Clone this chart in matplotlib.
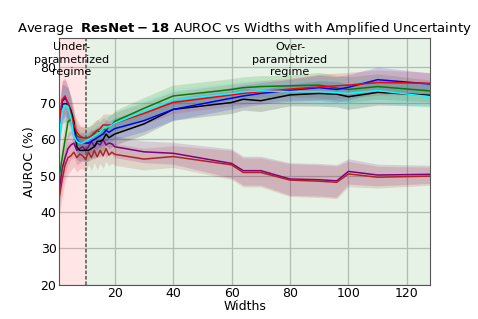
import matplotlib
matplotlib.use("Agg")
import matplotlib.pyplot as plt
import numpy as np

widths = [1, 2, 3, 4, 5, 6, 7, 8, 9, 10, 11, 12, 13, 14, 15, 16, 17, 18, 19, 20,
          30, 40, 60, 64, 70, 80, 90, 96, 100, 110, 128]

red = [65, 71, 72, 70, 67, 64, 62, 61, 60.5, 60.5, 60.5, 61, 62, 62.5, 63, 64, 64, 64, 64, 64.5,
       67.2, 70.2, 72.3, 72.7, 73.2, 73.9, 74.5, 74.8, 75.0, 75.7, 75.5]
blue = [64, 70.5, 71.5, 70, 67, 62, 60, 59, 59, 59, 59, 59.5, 60, 60.5, 61, 61.5, 62.5, 62, 62.5, 63,
        65.2, 68.3, 71.4, 72.0, 72.7, 73.6, 74.3, 73.8, 74.4, 76.5, 75.3]
cyan = [60, 68, 69.5, 69, 66, 61, 59.5, 59, 59, 59.5, 60, 60.5, 61, 61.5, 62, 63, 63.5, 63.5, 64, 64.5,
        67.8, 70.9, 72.7, 73.2, 73.4, 73.2, 73.2, 72.9, 72.7, 73.5, 71.8]
green = [50, 55, 60, 65, 65.5, 63.5, 61, 60.5, 60.5, 60.5, 60.5, 61, 61.5, 62.5, 62, 63, 62.5, 63.5, 64, 65,
         68.6, 72.0, 73.8, 74.3, 74.6, 74.8, 75.0, 74.2, 73.8, 74.6, 73.4]
black = [62, 69.8, 69.8, 69.8, 68, 65, 58, 57, 57, 57, 57, 57.5, 58, 59.5, 59.5, 60, 61.5, 60.5, 61, 61.5,
         64.3, 68.3, 70.2, 71.1, 70.7, 72.3, 72.7, 72.5, 71.8, 73.0, 72.2]
purple = [46, 52, 55, 57.5, 58.5, 59, 57, 57.5, 58, 57, 58, 59.5, 58, 59, 58.5, 60, 58.5, 59, 58.8, 58,
          56.6, 56.2, 53.4, 51.4, 51.4, 49.1, 48.9, 48.6, 51.2, 50.2, 50.4]
brown = [44, 49, 53, 55, 55.5, 56.5, 55, 56, 55.5, 54.5, 56.5, 55, 57, 55.2, 57, 55.5, 57.5, 55.7, 56.5, 55.9,
         54.6, 55.3, 53.0, 50.9, 50.9, 48.8, 48.5, 48.2, 50.5, 49.6, 49.9]

std_upper = [5, 5.5, 5, 4.5, 4, 3.5, 3.5, 3, 3, 3, 3, 3, 3, 3, 3, 3, 3, 3, 3, 3,
             3, 3, 3, 3, 3, 3, 3.5, 3.5, 3.5, 3.5, 3]
std_lower = [5, 5, 4.5, 4.5, 4, 4, 4, 4, 3.5, 3.5, 3.5, 3.5, 3.5, 3.5, 3.5, 3.5, 3.5, 3, 3, 3,
             3, 3, 4, 4, 4, 4.5, 4.5, 4.5, 3.5, 3, 2.5]

series = [(purple, std_lower, "purple"), (brown, std_lower, "firebrick"),
          (green, std_upper, "green"), (black, std_upper, "black"),
          (blue, std_upper, "blue"), (red, std_upper, "red"), (cyan, std_upper, "cyan")]

fig = plt.figure(figsize=(4.78, 3.19), dpi=100)
ax = fig.add_axes([0.124, 0.108, 0.776, 0.773])

x = np.array(widths)
ax.axvspan(1, 10, color="red", alpha=0.1, lw=0)
ax.axvspan(10, 128, color="green", alpha=0.1, lw=0)
ax.axvline(10, color="dimgray", linestyle="--", linewidth=1.3, dashes=(2, 1))

for vals, sd, c in series:
    v = np.array(vals)
    s = np.array(sd)
    ax.fill_between(x, v - s, v + s, color=c, alpha=0.15, lw=0)
    ax.plot(x, v, color=c, linewidth=1.1)

ax.text(5.3, 86.8, "Under-\nparametrized\nregime", ha="center", va="top", fontsize=8, linespacing=1.3)
ax.text(80, 86.8, "Over-\nparametrized\nregime", ha="center", va="top", fontsize=8, linespacing=1.3)

ax.set_xlim(1, 128)
ax.set_ylim(20, 88)
ax.set_xticks([20, 40, 60, 80, 100, 120])
ax.set_yticks([20, 30, 40, 50, 60, 70, 80])
ax.tick_params(labelsize=9, length=0, pad=2)
ax.grid(True, color="#c4c4c4", linewidth=0.9)
ax.set_axisbelow(True)
for sp in ax.spines.values():
    sp.set_color("#555555")
ax.set_xlabel("Widths", fontsize=9, labelpad=0)
ax.set_ylabel("AUROC (%)", fontsize=9, labelpad=3)
ax.set_title(r"Average  $\bf{ResNet-18}$ AUROC vs Widths with Amplified Uncertainty", fontsize=9.5, pad=4)

fig.savefig("out.png", dpi=100)
